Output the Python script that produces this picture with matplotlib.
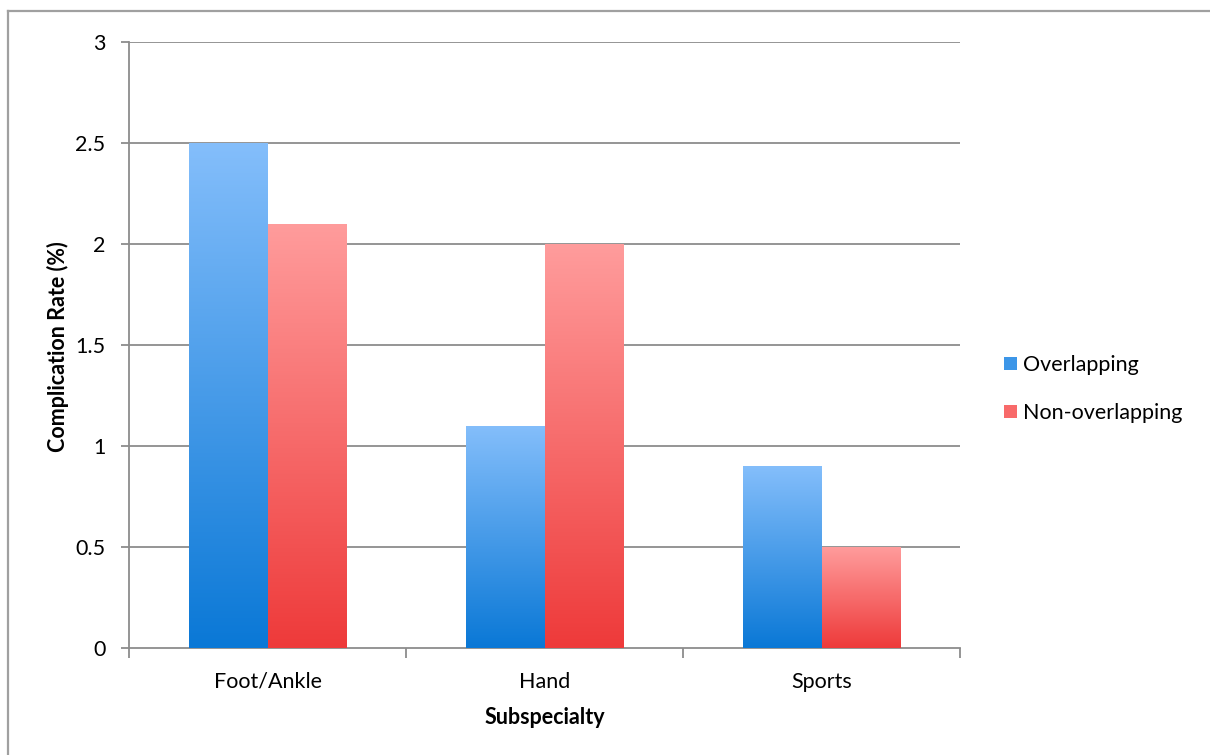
import numpy as np
import matplotlib
matplotlib.use("Agg")
import matplotlib.pyplot as plt
from matplotlib.colors import LinearSegmentedColormap
from matplotlib.patches import Patch
from matplotlib.lines import Line2D

# data
categories = ["Foot/Ankle", "Hand", "Sports"]
overlapping = [2.5, 1.1, 0.9]
non_overlapping = [2.1, 2.0, 0.5]
series_names = ["Overlapping", "Non-overlapping"]
y_ticks = [0, 0.5, 1, 1.5, 2, 2.5, 3]
y_tick_labels = ["0", "0.5", "1", "1.5", "2", "2.5", "3"]

plt.rcParams["font.family"] = ["Lato", "DejaVu Sans"]

fig = plt.figure(figsize=(12.1, 7.55), dpi=100)
ax = fig.add_axes([129 / 1210, 1 - 648 / 755, 831 / 1210, 606 / 755])

# gradient colours (bottom -> top)
blue_map = LinearSegmentedColormap.from_list("b", ["#0A78D6", "#84BEFB"])
red_map = LinearSegmentedColormap.from_list("r", ["#EE3A3A", "#FF9C9C"])

x = np.arange(len(categories)) + 0.5
w = 0.285
grad = np.linspace(0, 1, 256).reshape(-1, 1)

for vals, cmap, off in [(overlapping, blue_map, -w / 2), (non_overlapping, red_map, w / 2)]:
    bars = ax.bar(x + off, vals, width=w, facecolor="none", edgecolor="none", zorder=3)
    for b in bars:
        x0, y0 = b.get_x(), b.get_y()
        im = ax.imshow(grad, cmap=cmap, origin="lower", aspect="auto",
                       extent=[x0, x0 + b.get_width(), y0, y0 + b.get_height()],
                       zorder=3, interpolation="bicubic")
        im.set_clip_path(b)

ax.set_xlim(0, 3)
ax.set_ylim(0, 3)

# gridlines
for t in y_ticks[1:]:
    ax.axhline(t, color="#8c8c8c", lw=1.3, zorder=1)

for s in ["top", "right"]:
    ax.spines[s].set_visible(False)
for s in ["left", "bottom"]:
    ax.spines[s].set_color("#8c8c8c")
    ax.spines[s].set_linewidth(1.3)

ax.set_yticks(y_ticks)
ax.set_yticklabels(y_tick_labels)
ax.set_xticks([0, 1, 2, 3])
ax.set_xticklabels([])
ax.set_xticks(x, minor=True)
ax.set_xticklabels(categories, minor=True)
ax.tick_params(axis="y", length=6, width=1.3, color="#8c8c8c", labelsize=15.5, pad=11)
ax.tick_params(axis="x", which="major", length=7, width=1.3, color="#8c8c8c")
ax.tick_params(axis="x", which="minor", length=0, labelsize=15.5, pad=17)

fig.text(58 / 1210, 1 - 347 / 755, "Complication Rate (%)", rotation=90, ha="center", va="center",
         fontsize=15.5, fontweight="bold")
fig.text(545 / 1210, 1 - 717 / 755, "Subspecialty", ha="center", va="center",
         fontsize=15.5, fontweight="bold")

handles = [Patch(facecolor="#3C96E8", edgecolor="none"),
           Patch(facecolor="#F86A6A", edgecolor="none")]
fig.legend(handles, series_names, loc="center left", bbox_to_anchor=(985 / 1210, 1 - 389 / 755),
           frameon=False, fontsize=15.5, handlelength=0.6, handleheight=0.6,
           handletextpad=0.25, labelspacing=1.3)

# outer frame
fig.add_artist(Line2D([8 / 1210, 1], [1 - 11 / 755] * 2, color="#a0a0a0", lw=1.6, transform=fig.transFigure))
fig.add_artist(Line2D([8 / 1210] * 2, [0, 1 - 11 / 755], color="#a0a0a0", lw=1.6, transform=fig.transFigure))

fig.savefig("out.png", dpi=100)
